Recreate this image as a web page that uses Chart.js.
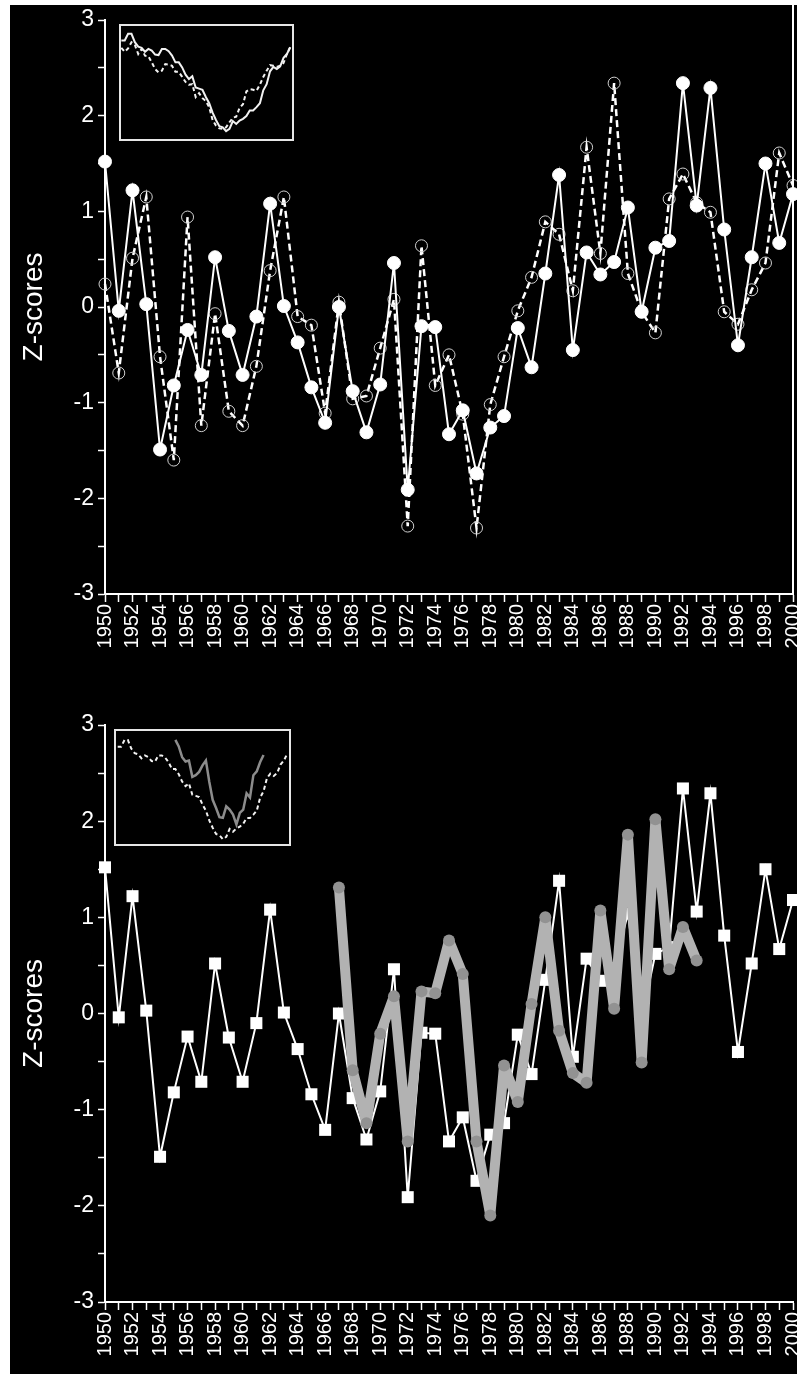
<!DOCTYPE html>
<html lang="en">
<head>
  <meta charset="UTF-8" />
  <title>Z-scores</title>
  <script src="https://cdn.jsdelivr.net/npm/chart.js"></script>
  <style>
    * { box-sizing: border-box; }
    html, body { margin: 0; padding: 0; background: #fff; overflow: hidden; }
    body { width: 797px; height: 1374px; position: relative; }
    .panel { position: absolute; left: 10px; top: 5px; right: 0; bottom: 0; background: #000; }
    .chart { position: absolute; left: 0; }
    .inset { position: absolute; border: 2px solid #e6e6e6; background: #000; }
    .inset canvas { display: block; }
  </style>
</head>
<body>
  <div class="panel"></div>
  <canvas id="topChart" class="chart" width="830" height="680" style="top:0"></canvas>
  <canvas id="bottomChart" class="chart" width="830" height="694" style="top:680px"></canvas>
  <div class="inset" style="left:119px; top:24px; width:175px; height:117px">
    <canvas id="topInset" width="171" height="113"></canvas>
  </div>
  <div class="inset" style="left:114px; top:729px; width:177px; height:117px">
    <canvas id="bottomInset" width="173" height="113"></canvas>
  </div>

<script>
  const years = [1950, 1951, 1952, 1953, 1954, 1955, 1956, 1957, 1958, 1959,
    1960, 1961, 1962, 1963, 1964, 1965, 1966, 1967, 1968, 1969,
    1970, 1971, 1972, 1973, 1974, 1975, 1976, 1977, 1978, 1979,
    1980, 1981, 1982, 1983, 1984, 1985, 1986, 1987, 1988, 1989,
    1990, 1991, 1992, 1993, 1994, 1995, 1996, 1997, 1998, 1999, 2000];

  // solid series (filled circles top, squares bottom)
  const zSolid = [1.52, -0.04, 1.22, 0.03, -1.49, -0.82, -0.24, -0.71, 0.52, -0.25,
    -0.71, -0.10, 1.08, 0.01, -0.37, -0.84, -1.21, 0.00, -0.88, -1.31,
    -0.81, 0.46, -1.91, -0.20, -0.21, -1.33, -1.08, -1.74, -1.26, -1.14,
    -0.22, -0.63, 0.35, 1.38, -0.45, 0.57, 0.34, 0.47, 1.04, -0.05,
    0.62, 0.69, 2.34, 1.06, 2.29, 0.81, -0.40, 0.52, 1.50, 0.67, 1.18];

  // dashed series (open circles, top panel)
  const zDashed = [0.24, -0.69, 0.51, 1.15, -0.52, -1.60, 0.94, -1.24, -0.07, -1.09,
    -1.24, -0.62, 0.38, 1.15, -0.10, -0.19, -1.11, 0.05, -0.96, -0.93,
    -0.43, 0.08, -2.29, 0.64, -0.82, -0.50, -1.12, -2.31, -1.02, -0.52,
    -0.04, 0.31, 0.89, 0.76, 0.17, 1.67, 0.56, 2.34, 0.35, -0.05,
    -0.27, 1.13, 1.39, 1.09, 0.99, -0.05, -0.18, 0.18, 0.46, 1.61, 1.27];

  // thick grey series (bottom panel)
  const grayYears = [1967, 1968, 1969, 1970, 1971, 1972, 1973, 1974, 1975, 1976,
    1977, 1978, 1979, 1980, 1981, 1982, 1983, 1984, 1985, 1986,
    1987, 1988, 1989, 1990, 1991, 1992, 1993];
  const grayValues = [1.31, -0.59, -1.14, -0.21, 0.18, -1.33, 0.23, 0.21, 0.76, 0.41,
    -1.33, -2.10, -0.54, -0.92, 0.10, 1.00, -0.18, -0.62, -0.72, 1.07,
    0.05, 1.86, -0.51, 2.02, 0.46, 0.90, 0.55];

  // inset curves
  const insetSolid = [1.5, 1.5, 2.7, 2.7, 1.2, 0.4, 0.2, -0.5, 0.0, -0.3,
    -1.0, -1.1, 0.0, 0.0, -0.4, -1.2, -2.4, -2.4, -3.3, -4.6,
    -5.4, -4.9, -6.9, -7.1, -7.3, -8.6, -9.7, -11.4, -12.7, -13.8,
    -14.0, -14.7, -14.3, -12.9, -13.4, -12.8, -12.5, -12.0, -11.0, -11.0,
    -10.4, -9.7, -7.4, -6.3, -4.0, -3.2, -3.6, -3.1, -1.6, -0.9, 0.3];
  const insetDashed = [0.2, -0.5, 0.1, 1.2, 0.7, -0.9, 0.0, -1.2, -1.3, -2.4,
    -3.6, -4.2, -3.9, -2.7, -2.8, -3.0, -4.1, -4.1, -5.0, -5.9,
    -6.4, -6.3, -8.6, -7.9, -8.8, -9.3, -10.4, -12.7, -13.7, -14.2,
    -14.3, -14.0, -13.1, -12.3, -12.1, -10.5, -9.9, -7.6, -7.2, -7.3,
    -7.5, -6.4, -5.0, -3.9, -2.9, -3.0, -3.2, -3.0, -2.5, -0.9, 0.4];
  // grey inset curve, in % of box height
  const insetGray = [92.2, 86.4, 76.8, 73.0, 73.9, 59.4, 60.9, 63.8, 69.6, 73.9,
    55.1, 39.1, 31.9, 23.8, 23.2, 33.3, 30.4, 26.1, 17.4, 27.5,
    30.4, 44.9, 41.2, 60.9, 64.3, 72.5, 78.8];

  const FONT = "'Liberation Sans', Arial, sans-serif";
  const pts = (xs, ys) => xs.map((x, i) => ({ x, y: ys[i] }));

  // right-hand frame line
  const frame = {
    id: 'frame',
    afterDatasetsDraw(chart, args, opts) {
      if (!opts.show) return;
      const { ctx, chartArea: a } = chart;
      ctx.save();
      ctx.strokeStyle = '#fff';
      ctx.lineWidth = 2;
      ctx.beginPath();
      ctx.moveTo(a.right, opts.top);
      ctx.lineTo(a.right, a.bottom);
      ctx.stroke();
      ctx.restore();
    }
  };

  function axes(xHeight) {
    return {
      x: {
        type: 'linear', min: 1950, max: 2000,
        afterFit: s => { s.height = xHeight; },
        ticks: {
          stepSize: 1, autoSkip: false, maxRotation: 90, minRotation: 90,
          color: '#fff', font: { family: FONT, size: 20 }, padding: 2,
          callback: v => v % 2 === 0 ? String(v) : ''
        },
        grid: { drawOnChartArea: false, color: '#fff', tickLength: 8, tickWidth: 1.5 },
        border: { color: '#fff', width: 2 }
      },
      y: {
        min: -3, max: 3,
        afterFit: s => { s.width = 105; },
        ticks: {
          stepSize: 0.5, color: '#fff', font: { family: FONT, size: 23 }, padding: 4,
          callback: v => Number.isInteger(v) ? String(v) : ''
        },
        grid: { drawOnChartArea: false, color: '#fff', tickLength: 7, tickWidth: 1.5 },
        border: { color: '#fff', width: 2 },
        title: {
          display: true, text: 'Z-scores', color: '#fff',
          font: { family: FONT, size: 28 }, padding: { top: 17, bottom: 0 }
        }
      }
    };
  }

  const base = {
    responsive: false,
    animation: false,
    plugins: { legend: { display: false }, tooltip: { enabled: false } }
  };

  new Chart(document.getElementById('topChart'), {
    type: 'line',
    data: {
      datasets: [
        {
          data: pts(years, zSolid), borderColor: '#fff', borderWidth: 2,
          pointRadius: 6.5, pointBackgroundColor: '#fff', pointBorderColor: '#fff',
          pointBorderWidth: 1, tension: 0, clip: false
        },
        {
          data: pts(years, zDashed), borderColor: '#fff', borderWidth: 2.5, borderDash: [7, 4],
          pointRadius: 6, pointBackgroundColor: 'rgba(0,0,0,0)', pointBorderColor: '#d0d0d0',
          pointBorderWidth: 1, tension: 0, clip: false
        }
      ]
    },
    options: {
      ...base,
      layout: { padding: { top: 20, right: 37, left: 0, bottom: 0 } },
      scales: axes(86),
      plugins: { ...base.plugins, frame: { show: true, top: 5 } }
    },
    plugins: [frame]
  });

  new Chart(document.getElementById('bottomChart'), {
    type: 'line',
    data: {
      datasets: [
        {
          data: pts(grayYears, grayValues), borderColor: '#b2b2b2', borderWidth: 10,
          borderJoinStyle: 'round', borderCapStyle: 'round',
          pointRadius: 6, pointBackgroundColor: '#929292', pointBorderWidth: 0,
          tension: 0, clip: false
        },
        {
          data: pts(years, zSolid), borderColor: '#fff', borderWidth: 2,
          pointStyle: 'rect', pointRadius: 8.5, pointBackgroundColor: '#fff',
          pointBorderColor: '#fff', pointBorderWidth: 0, tension: 0, clip: false
        }
      ]
    },
    options: {
      ...base,
      layout: { padding: { top: 45, right: 37, left: 0, bottom: 0 } },
      scales: axes(72),
      plugins: { ...base.plugins, frame: { show: false } }
    },
    plugins: [frame]
  });

  function insetOpts(xmin, xmax, ymin, ymax, extra) {
    return {
      ...base,
      layout: { padding: 0 },
      elements: { point: { radius: 0 } },
      scales: {
        x: { type: 'linear', min: xmin, max: xmax, display: false },
        y: { min: ymin, max: ymax, display: false },
        ...extra
      }
    };
  }

  new Chart(document.getElementById('topInset'), {
    type: 'line',
    data: {
      datasets: [
        { data: pts(years, insetSolid), borderColor: '#f2f2f2', borderWidth: 2, tension: 0 },
        { data: pts(years, insetDashed), borderColor: '#f2f2f2', borderWidth: 2, borderDash: [4, 3], tension: 0 }
      ]
    },
    options: insetOpts(1949.9, 2000.5, -16.1, 4.1)
  });

  new Chart(document.getElementById('bottomInset'), {
    type: 'line',
    data: {
      datasets: [
        { data: pts(grayYears, insetGray), borderColor: '#8c8c8c', borderWidth: 2.5, tension: 0, yAxisID: 'y2' },
        { data: pts(years, insetSolid), borderColor: '#f2f2f2', borderWidth: 2, borderDash: [4, 3], tension: 0 }
      ]
    },
    options: insetOpts(1949.5, 2000.5, -15.55, 4.28, { y2: { min: 0, max: 100, display: false } })
  });
</script>
</body>
</html>
